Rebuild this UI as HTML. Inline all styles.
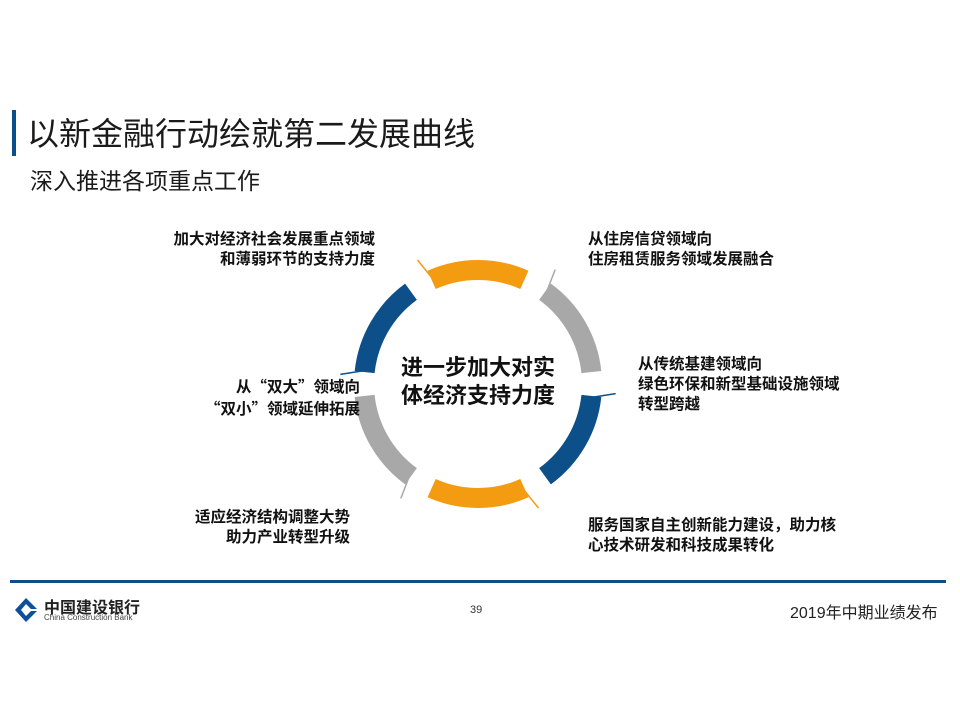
<!DOCTYPE html>
<html><head><meta charset="utf-8"><style>
body{margin:0;width:960px;height:720px;background:#fff;position:relative;overflow:hidden;font-family:"Liberation Sans","Noto Sans CJK SC",sans-serif}
.a{position:absolute;white-space:nowrap}
.l{font-weight:bold;font-size:15.5px;line-height:20px;color:#111}
.q{font-family:"Noto Sans CJK SC",sans-serif}
</style></head><body>
<div class="a" style="left:12px;top:110px;width:4px;height:46px;background:#0b4f8a"></div>
<div class="a" style="left:27px;top:109px;font-size:32px;color:#1a1a1a">以新金融行动绘就第二发展曲线</div>
<div class="a" style="left:30px;top:162px;font-size:23px;color:#1a1a1a">深入推进各项重点工作</div>

<svg class="a" style="left:0;top:0" width="960" height="720" id="ring"></svg>
<script>
var svg=document.getElementById('ring'),cx=478,cy=384,r=114,ns='http://www.w3.org/2000/svg';
var cols=['#f39c12','#a8a8a8','#0d5089','#f39c12','#a8a8a8','#0d5089'];
function p(a,rr){var t=(a-90)*Math.PI/180;return [cx+rr*Math.cos(t),cy+rr*Math.sin(t)];}
for(var i=0;i<6;i++){var c=i*60,a0=c-24,a1=c+24,s=p(a0,r),e=p(a1,r);
var path=document.createElementNS(ns,'path');
path.setAttribute('d','M'+s[0]+' '+s[1]+' A'+r+' '+r+' 0 0 1 '+e[0]+' '+e[1]);
path.setAttribute('stroke',cols[i]);path.setAttribute('stroke-width','20');path.setAttribute('fill','none');svg.appendChild(path);
var q0=p(a0+2,106),q1=p(a0-2,138);var ln=document.createElementNS(ns,'line');
ln.setAttribute('x1',q0[0]);ln.setAttribute('y1',q0[1]);ln.setAttribute('x2',q1[0]);ln.setAttribute('y2',q1[1]);
ln.setAttribute('stroke',cols[i]);ln.setAttribute('stroke-width','1.5');svg.appendChild(ln);}
</script>
<div class="a" style="left:390px;top:354px;font-size:22px;font-weight:bold;line-height:28px;text-align:center;width:176px;color:#111">进一步加大对实<br>体经济支持力度</div>

<div class="a l" style="left:143px;top:230px;text-align:right;width:232px">加大对经济社会发展重点领域<br>和薄弱环节的支持力度</div>
<div class="a l" style="left:588px;top:230px">从住房信贷领域向<br>住房租赁服务领域发展融合</div>
<div class="a l" style="left:638px;top:355px">从传统基建领域向<br>绿色环保和新型基础设施领域<br>转型跨越</div>
<div class="a l" style="left:140px;top:376px;text-align:right;width:220px">从<span class="q">“</span>双大<span class="q">”</span>领域向<br><span class="q">“</span>双小<span class="q">”</span>领域延伸拓展</div>
<div class="a l" style="left:130px;top:508px;text-align:right;width:220px">适应经济结构调整大势<br>助力产业转型升级</div>
<div class="a l" style="left:588px;top:516px">服务国家自主创新能力建设，助力核<br>心技术研发和科技成果转化</div>

<div class="a" style="left:10px;top:580px;width:936px;height:3px;background:#0d4f86"></div>
<svg class="a" style="left:14px;top:597px" width="24" height="26"><path d="M12 1 L23 12 L17 12 L12 7 L7 13 L12 19 L17 14 L23 14 L12 25 L1 13Z" fill="#0d4f9a"/></svg>
<div class="a" style="left:44px;top:594px;font-size:16px;font-weight:bold;color:#222">中国建设银行</div>
<div class="a" style="left:44px;top:613px;font-size:8px;color:#444">China Construction Bank</div>
<div class="a" style="left:470px;top:604px;font-size:11px;color:#333">39</div>
<div class="a" style="left:790px;top:599px;font-size:16px;color:#222">2019年中期业绩发布</div>
</body></html>
